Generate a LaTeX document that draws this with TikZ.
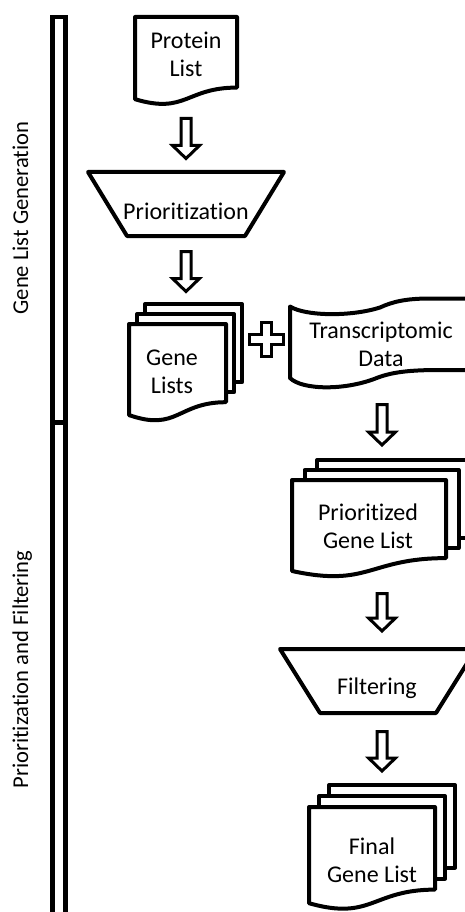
\documentclass[tikz,border=0pt]{standalone}
\usepackage{fontspec}
\setmainfont{Carlito}[Ligatures={NoCommon}]
\usetikzlibrary{calc}
\tikzset{
  shapeline/.style={line width=4pt, line join=round, fill=white, draw=black},
  barrowline/.style={line width=3pt, line join=miter, fill=white, draw=black},
  lbl/.style={align=center, font=\fontsize{24}{28}\selectfont, inner sep=0pt},
  sidelbl/.style={font=\fontsize{22.6}{26}\selectfont, rotate=90, inner sep=0pt, anchor=base},
  barline/.style={line width=4.5pt, draw=black},
}
% document shape: x0 y0 w h
\newcommand\docshape[4]{%
  \draw[shapeline] (#1,#2) -- ({#1+#3},#2) -- ({#1+#3},{#2+0.802*#4})
    .. controls ({#1+0.5*#3},{#2+0.802*#4}) and ({#1+0.5*#3},{#2+1.107*#4}) .. (#1,{#2+0.934*#4}) -- cycle;}
% multi document: x0 y0 w h dx dy
\newcommand\multidoc[6]{%
  \draw[shapeline] ({#1+2*#5},{#2-2*#6}) rectangle ({#1+2*#5+#3},{#2-2*#6+0.802*#4});
  \draw[shapeline] ({#1+#5},{#2-#6}) rectangle ({#1+#5+#3},{#2-#6+0.802*#4});
  \docshape{#1}{#2}{#3}{#4}}
% hollow block arrow between two named coordinates
\newcommand\blockarrow[2]{%
  \draw[barrowline] let \p1=(#1), \p2=(#2) in
   ({\x1-5pt},\y1) -- ({\x1+5pt},\y1) -- ({\x1+5pt},{\y2+13pt}) -- ({\x1+13.5pt},{\y2+13pt})
   -- (\x1,\y2) -- ({\x1-13.5pt},{\y2+13pt}) -- ({\x1-5pt},{\y2+13pt}) -- cycle;}
\begin{document}
\begin{tikzpicture}[x=1pt,y=-1pt]
\useasboundingbox (0,0) rectangle (465,912);
\clip (0,0) rectangle (465,912);

% side bar
\draw[barline] (52.5,17) rectangle (65.5,950);
\draw[barline] (52.5,422.5) -- (65.5,422.5);
\node[sidelbl] (lab1) at (28,218) {Gene List Generation};
\node[sidelbl] (lab2) at (28,669.5) {Prioritization and Filtering};

% Protein list
\docshape{135}{17}{102}{88}
\node[lbl] (protein) at (186,54) {Protein\\List};

% Prioritization
\draw[shapeline] (88,172) -- (284,172) -- (245,236) -- (127,236) -- cycle;
\node[lbl] (prio) at (186,211) {Prioritization};

% Gene lists
\multidoc{129}{324}{97}{97.5}{8}{10}
\node[lbl] (genelists) at (172,371.5) {Gene\\Lists};

% plus
\draw[barrowline] (261.5,322) -- (271.5,322) -- (271.5,334) -- (283.5,334) -- (283.5,344)
  -- (271.5,344) -- (271.5,356) -- (261.5,356) -- (261.5,344) -- (249.5,344)
  -- (249.5,334) -- (261.5,334) -- cycle;

% Transcriptomic data (punched tape)
\draw[shapeline] (290,306.5) .. controls (305,316) and (350,317) .. (380,307.5)
  .. controls (392,302) and (405,298.5) .. (430,298.5) -- (490,298.5) -- (490,370)
  -- (440,370) .. controls (410,370) and (393,372) .. (378,377.5)
  .. controls (345,391) and (302,390) .. (290,378) -- cycle;
\node[lbl] (trans) at (381,344) {Transcriptomic\\Data};

% Prioritized gene list
\multidoc{292}{480}{154}{97.4}{12.5}{10}
\node[lbl] (prgl) at (368,526.5) {Prioritized\\Gene List};

% Filtering
\draw[shapeline] (280,649) -- (476,649) -- (436,713) -- (320,713) -- cycle;
\node[lbl] (filt) at (377,688) {Filtering};

% Final gene list
\multidoc{309}{807}{126}{103}{10}{11}
\node[lbl] (final) at (372,860.5) {Final\\Gene List};

% arrows
\coordinate (a1s) at (186,118.5); \coordinate (a1e) at (186,158.5);
\coordinate (a2s) at (186,251.5); \coordinate (a2e) at (186,291.5);
\coordinate (a3s) at (382,404.5); \coordinate (a3e) at (382,445);
\coordinate (a4s) at (382,593.5); \coordinate (a4e) at (382,631);
\coordinate (a5s) at (382,731.5); \coordinate (a5e) at (382,771);
\blockarrow{a1s}{a1e}
\blockarrow{a2s}{a2e}
\blockarrow{a3s}{a3e}
\blockarrow{a4s}{a4e}
\blockarrow{a5s}{a5e}
\end{tikzpicture}
\end{document}
